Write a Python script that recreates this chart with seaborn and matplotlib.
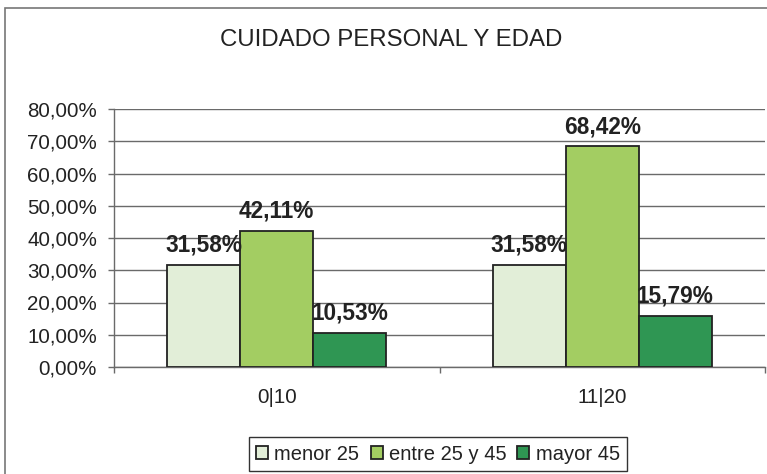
import matplotlib
matplotlib.use("Agg")
import matplotlib.pyplot as plt
import seaborn as sns
import pandas as pd
from matplotlib.patches import Rectangle
from matplotlib.ticker import FuncFormatter, FixedLocator

categories = ["0|10", "11|20"]
series = ["menor 25", "entre 25 y 45", "mayor 45"]
menor_25 = [31.58, 31.58]
entre_25_45 = [42.11, 68.42]
mayor_45 = [10.53, 15.79]
colors = ["#E2EED8", "#A3CD62", "#2F9653"]
title = "CUIDADO PERSONAL Y EDAD"
y_ticks = [0, 10, 20, 30, 40, 50, 60, 70, 80]

rows = []
for s, vals in zip(series, [menor_25, entre_25_45, mayor_45]):
    for c, v in zip(categories, vals):
        rows.append({"cat": c, "serie": s, "val": v})
df = pd.DataFrame(rows)

sns.set_style("white")
plt.rcParams["font.family"] = ["Liberation Sans", "DejaVu Sans"]

W, H = 767, 474
fig = plt.figure(figsize=(W / 100, H / 100), dpi=100)
ax = fig.add_axes([114 / W, 107 / H, (765 - 114) / W, (367 - 109) / H])

sns.barplot(data=df, x="cat", y="val", hue="serie", hue_order=series,
            order=categories, palette=colors, saturation=1, width=0.674,
            gap=0, edgecolor="#222222", linewidth=1.3, ax=ax, legend=True,
            zorder=3)

ax.set_xlim(-0.5, 1.5)
ax.set_ylim(0, 80)
ax.set_xlabel("")
ax.set_ylabel("")

grid_c = "#6a6a6a"
ax.yaxis.set_major_locator(FixedLocator(y_ticks))
ax.yaxis.set_major_formatter(FuncFormatter(lambda v, p: f"{v:.2f}%".replace(".", ",")))
ax.grid(axis="y", color=grid_c, linewidth=1.0, zorder=0)
ax.set_axisbelow(True)
for side in ["top", "right"]:
    ax.spines[side].set_visible(False)
ax.spines["left"].set_color(grid_c)
ax.spines["bottom"].set_color(grid_c)
ax.spines["left"].set_linewidth(1.0)
ax.spines["bottom"].set_linewidth(1.0)

ax.tick_params(axis="y", which="major", length=4.3, width=1, color=grid_c,
               pad=8, labelsize=14.8, labelcolor="#222222", left=True)
ax.set_xticks([0, 1])
ax.set_xticklabels(categories)
ax.set_xticks([-0.5, 0.5, 1.5], minor=True)
ax.tick_params(axis="x", which="major", length=0, pad=15, labelsize=14.8,
               labelcolor="#222222")
ax.tick_params(axis="x", which="minor", length=4.5, width=1, color=grid_c,
               bottom=True)

for cont in ax.containers:
    labels = [f"{b.get_height():.2f}%".replace(".", ",") for b in cont]
    ax.bar_label(cont, labels=labels, padding=6, fontsize=16.3,
                 fontweight="bold", color="#222222", zorder=5)

handles, labs = ax.get_legend_handles_labels()
ax.get_legend().remove()
leg = fig.legend(handles, labs, loc="center", bbox_to_anchor=(438 / W, 1 - 454 / H),
                 ncol=3, frameon=True, fancybox=False, edgecolor="#333333",
                 framealpha=1, fontsize=14.5, handlelength=0.6, handleheight=0.6,
                 handletextpad=0.3, columnspacing=0.55, borderpad=0.35,
                 borderaxespad=0)
leg.get_frame().set_linewidth(1.0)
for t in leg.get_texts():
    t.set_color("#222222")

fig.text(391.5 / W, 1 - 40 / H, title, ha="center", va="center",
         fontsize=17.3, color="#222222")

fig.patches.append(Rectangle((5 / W, -0.05), 1.1, 1 - 8 / H + 0.05,
                             transform=fig.transFigure, fill=False,
                             edgecolor="#777777", linewidth=1.2, zorder=-1))

fig.savefig("out.png", dpi=100, facecolor="white")
